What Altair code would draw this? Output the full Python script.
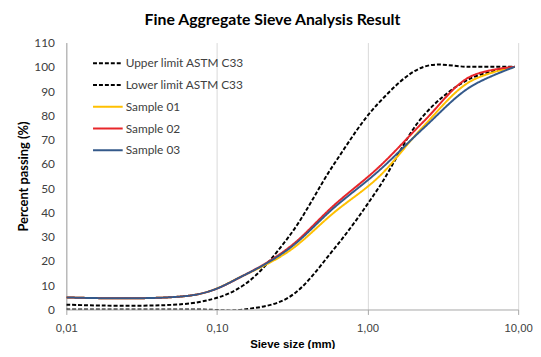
import altair as alt
import pandas as pd

# Sieve sizes (mm); pan plotted at 0.01
sieve = [0.01, 0.075, 0.15, 0.3, 0.6, 1.18, 2.36, 4.75, 9.5]

series_names = ["Upper limit ASTM C33", "Lower limit ASTM C33",
                "Sample 01", "Sample 02", "Sample 03"]

upper = [2, 3, 10, 30, 60, 85, 100, 100, 100]
lower = [0, 0, 0, 5, 25, 50, 80, 95, 100]
sample01 = [5, 6.3, 14, 24, 40, 54.5, 75.6, 93.8, 100]
sample02 = [5, 6.3, 14, 25.5, 43, 58.5, 77.5, 95.8, 100]
sample03 = [5, 6.3, 14, 25, 42, 57, 74.8, 91.5, 100]

x_ticks = [0.01, 0.1, 1, 10]
y_ticks = list(range(0, 111, 10))

colors = ["#000000", "#000000", "#FFC000", "#E8262A", "#34598A"]
dashes = [[4, 2], [4, 2], [1, 0], [1, 0], [1, 0]]

rows = []
for name, vals in zip(series_names, [upper, lower, sample01, sample02, sample03]):
    for s, v in zip(sieve, vals):
        rows.append({"series": name, "size": s, "passing": v})
df = pd.DataFrame(rows)

legend = alt.Legend(
    title=None, orient="none", legendX=26, legendY=5,
    symbolType="stroke", symbolSize=900, symbolStrokeWidth=2,
    labelFont="Lato", labelFontSize=12, labelColor="#404040",
    rowPadding=-10.5, padding=0, labelOffset=2,
)

chart = alt.Chart(df).mark_line(interpolate="catmull-rom", strokeWidth=2, clip=True).encode(
    x=alt.X("size:Q", title="Sieve size (mm)",
            scale=alt.Scale(type="log", domain=[0.01, 10]),
            axis=alt.Axis(values=x_ticks,
                          labelExpr="replace(format(datum.value, '.2f'), '.', ',')",
                          labelFlush=False,
                          grid=True, gridColor="#D9D9D9", gridWidth=1,
                          domainColor="#A6A6A6", tickColor="#A6A6A6", tickSize=5,
                          labelFont="Liberation Sans", labelFontSize=11.5, labelColor="#404040",
                          labelPadding=8, titleFont="Liberation Sans", titleFontSize=11.5,
                          titleFontWeight="bold", titleColor="#000000", titlePadding=5)),
    y=alt.Y("passing:Q", title="Percent passing (%)",
            scale=alt.Scale(domain=[0, 110], nice=False),
            axis=alt.Axis(values=y_ticks, grid=False, ticks=False,
                          domainColor="#A6A6A6",
                          labelFont="Lato", labelFontSize=12, labelColor="#404040",
                          labelPadding=12, titleFont="Lato", titleFontSize=13,
                          titleFontWeight="bold", titleColor="#000000", titlePadding=3)),
    color=alt.Color("series:N", scale=alt.Scale(domain=series_names, range=colors), legend=legend),
    strokeDash=alt.StrokeDash("series:N", scale=alt.Scale(domain=series_names, range=dashes), legend=legend),
).properties(
    width=457, height=270,
    title=alt.TitleParams("Fine Aggregate Sieve Analysis Result", font="Lato", fontSize=16,
                          fontWeight="bold", color="#000000", anchor="middle", dx=-20, offset=9),
    autosize=alt.AutoSizeParams(type="none"),
    padding={"left": 59, "top": 33, "right": 15, "bottom": 38},
).configure_view(stroke=None)

chart.save("out.html", embed_options={"renderer": "svg", "actions": False})
